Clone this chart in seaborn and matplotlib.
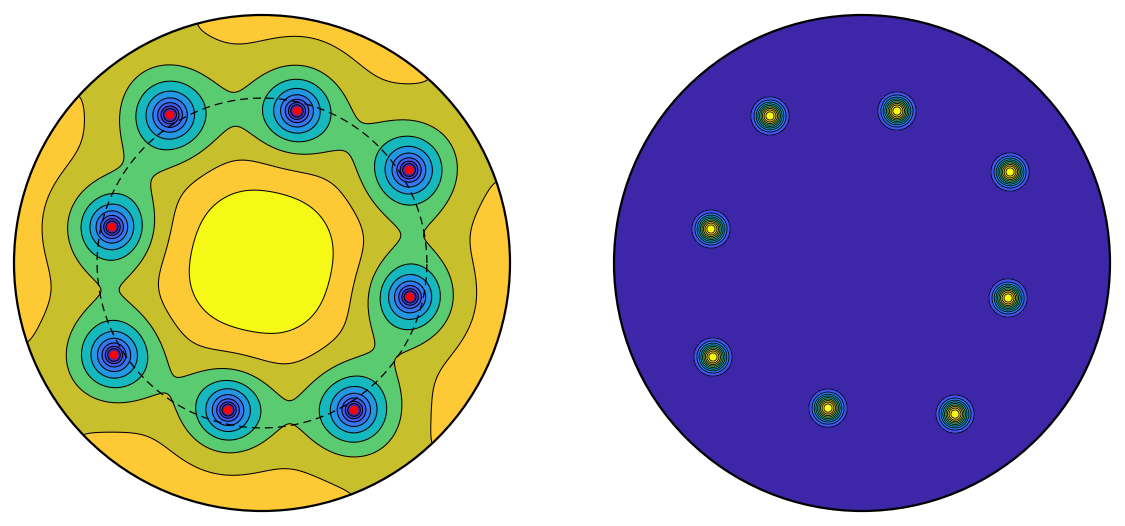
import numpy as np
import matplotlib
matplotlib.use("Agg")
import matplotlib.pyplot as plt
import seaborn as sns
from matplotlib.patches import Circle
from matplotlib.colors import LinearSegmentedColormap

# ---------------- data (disk radius = 1) ----------------
left_x = [-0.371, 0.141, 0.593, -0.605, 0.597, -0.597, -0.137, 0.371]
left_y = [0.597, 0.613, 0.375, 0.145, -0.137, -0.371, -0.593, -0.593]
right_x = [-0.371, 0.141, 0.597, -0.609, 0.589, -0.601, -0.137, 0.375]
right_y = [0.593, 0.613, 0.367, 0.137, -0.141, -0.379, -0.585, -0.609]
strength = [1, 1, 1, 1, 1, 1, 1, 1]
rotation_coef = 3.96
ring_radius = 0.665
core_width = 0.036
left_levels = [-6.24, -5.92, -5.60, -5.28, -4.96, -4.64, -4.32, -4.00, -3.68]
right_levels = [0.1, 0.2, 0.3, 0.4, 0.5, 0.6, 0.7, 0.8, 0.9]

left_colors = ["#4232b2", "#4746da", "#435cee", "#3577f5", "#2298e4",
               "#15b8bc", "#5bcb72", "#c8bf2d", "#fdca35", "#f6f815"]
parula_anchor = [(0.2422, 0.1504, 0.6603), (0.2727, 0.2760, 0.9180),
                 (0.2500, 0.4100, 0.9900), (0.1650, 0.5150, 0.9700),
                 (0.1100, 0.6000, 0.8800), (0.0400, 0.6900, 0.8100),
                 (0.0900, 0.7400, 0.7000), (0.2600, 0.7800, 0.5500),
                 (0.5000, 0.7950, 0.3800), (0.7300, 0.7600, 0.2400),
                 (0.9300, 0.7300, 0.2300), (0.9900, 0.8300, 0.1800),
                 (0.9769, 0.9839, 0.0805)]

sns.set_theme(style="white")
plt.rcParams["font.family"] = ["DejaVu Sans"]
plt.rcParams["contour.negative_linestyle"] = "solid"

parula = LinearSegmentedColormap.from_list("parula_like", parula_anchor)

# ---------------- fields ----------------
n = 1100
g = np.linspace(-1.0, 1.0, n)
X, Y = np.meshgrid(g, g)
Z = X + 1j * Y

psi = -rotation_coef * np.abs(Z) ** 2
for xk, yk, sk in zip(left_x, left_y, strength):
    psi += sk * np.log(np.abs(Z - (xk + 1j * yk)) + 1e-9)

omega = np.zeros_like(X)
for xk, yk, sk in zip(right_x, right_y, strength):
    omega += sk * np.exp(-((X - xk) ** 2 + (Y - yk) ** 2) / (2 * core_width ** 2))

fig = plt.figure(figsize=(11.25, 5.26), dpi=100)
W, H = 1125, 526
R = 248
axL = fig.add_axes([(262 - R) / W, (H - 263 - R) / H, 2 * R / W, 2 * R / H])
axR = fig.add_axes([(862 - R) / W, (H - 263 - R) / H, 2 * R / W, 2 * R / H])


def finish(ax):
    clip = Circle((0, 0), 1.0, transform=ax.transData, facecolor="none", edgecolor="none")
    ax.add_patch(clip)
    for coll in ax.collections:
        coll.set_clip_path(clip)
    ax.add_patch(Circle((0, 0), 1.0, facecolor="none", edgecolor="black",
                        linewidth=1.6, clip_on=False, zorder=10))
    ax.set_xlim(-1, 1)
    ax.set_ylim(-1, 1)
    ax.set_aspect("equal")
    ax.axis("off")


# left panel
lv = [-1e9] + left_levels + [1e9]
axL.contourf(X, Y, psi, levels=lv, colors=left_colors)
axL.contour(X, Y, psi, levels=left_levels, colors="black", linewidths=0.75,
            linestyles="solid")
finish(axL)
t = np.linspace(0, 2 * np.pi, 400)
axL.plot(ring_radius * np.cos(t), ring_radius * np.sin(t), color="black",
         linewidth=0.9, dashes=(6.4, 4.0), zorder=5)
sns.scatterplot(x=left_x, y=left_y, color="#ff0000", s=38, edgecolor="none",
                ax=axL, legend=False, zorder=6)

# right panel
rv = [-1.0] + right_levels + [10.0]
nb = len(rv) - 1
right_colors = [parula(i / (nb - 1)) for i in range(nb)]
axR.contourf(X, Y, omega, levels=rv, colors=right_colors)
axR.contour(X, Y, omega, levels=right_levels, colors="black", linewidths=0.6,
            linestyles="solid")
finish(axR)

fig.savefig("out.png", dpi=100)
